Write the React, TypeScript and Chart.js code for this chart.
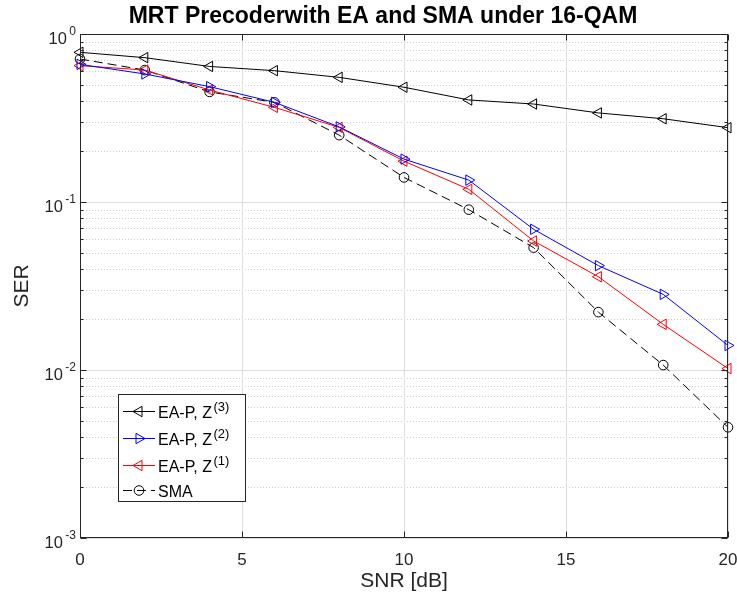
import React, { useEffect, useRef } from 'react';
import { Chart, registerables } from 'chart.js';

Chart.register(...registerables);

// ---------- data ----------
const snr = [0, 2, 4, 6, 8, 10, 12, 14, 16, 18, 20];
const serZ3 = [0.778, 0.723, 0.641, 0.605, 0.552, 0.482, 0.405, 0.383, 0.339, 0.313, 0.277];
const serZ2 = [0.66, 0.578, 0.486, 0.392, 0.28, 0.18, 0.135, 0.0688, 0.0418, 0.0282, 0.014];
const serZ1 = [0.648, 0.61, 0.464, 0.366, 0.278, 0.175, 0.119, 0.0586, 0.0359, 0.0187, 0.0102];
const serSMA = [0.71, 0.61, 0.452, 0.392, 0.25, 0.14, 0.09, 0.0535, 0.0221, 0.0107, 0.00456];

const xTicks = [0, 5, 10, 15, 20];
const yExponents = [-3, -2, -1, 0];
const yMantissas = [1, 2, 3, 4, 5, 6, 7, 8, 9];

const titleText = 'MRT Precoderwith EA and SMA under 16-QAM';
const xLabel = 'SNR [dB]';
const yLabel = 'SER';
const legendNames = ['EA-P, Z', 'EA-P, Z', 'EA-P, Z', 'SMA'];
const legendSups = ['(3)', '(2)', '(1)', ''];

const FONT = '"Liberation Sans", Arial, Helvetica, sans-serif';
const AXIS = '#262626';

const yTickValues: number[] = [];
for (let e = yExponents[0]; e < 0; e++) {
  for (const m of yMantissas) yTickValues.push(m * Math.pow(10, e));
}
yTickValues.push(1);

function isDecade(v: number) {
  const l = Math.log10(v);
  return Math.abs(l - Math.round(l)) < 1e-6;
}

const TRI_R = 6;
const CIRC_R = 4.8;

function drawMarker(ctx: CanvasRenderingContext2D, kind: string, x: number, y: number, color: string) {
  ctx.save();
  ctx.strokeStyle = color;
  ctx.lineWidth = 1;
  ctx.setLineDash([]);
  ctx.beginPath();
  const r = TRI_R;
  if (kind === 'left') {
    ctx.moveTo(x - r, y);
    ctx.lineTo(x + r / 2, y - r * 0.866);
    ctx.lineTo(x + r / 2, y + r * 0.866);
    ctx.closePath();
  } else if (kind === 'right') {
    ctx.moveTo(x + r, y);
    ctx.lineTo(x - r / 2, y - r * 0.866);
    ctx.lineTo(x - r / 2, y + r * 0.866);
    ctx.closePath();
  } else {
    ctx.arc(x, y, CIRC_R, 0, Math.PI * 2);
  }
  ctx.stroke();
  ctx.restore();
}

const decorPlugin = {
  id: 'matlabDecor',
  beforeDatasetsDraw(chart: any) {
    const { ctx, chartArea, scales } = chart;
    const { left, right, top, bottom } = chartArea;
    const xs = scales.x;
    const ys = scales.y;
    ctx.save();
    ctx.lineWidth = 1;
    // minor y grid (dotted)
    ctx.strokeStyle = '#cdcdcd';
    ctx.setLineDash([1, 2]);
    for (const v of yTickValues) {
      if (isDecade(v)) continue;
      const py = Math.round(ys.getPixelForValue(v)) + 0.5;
      ctx.beginPath();
      ctx.moveTo(left, py);
      ctx.lineTo(right, py);
      ctx.stroke();
    }
    // major grid
    ctx.setLineDash([]);
    ctx.strokeStyle = '#dedede';
    for (const v of yTickValues) {
      if (!isDecade(v)) continue;
      const py = Math.round(ys.getPixelForValue(v)) + 0.5;
      ctx.beginPath();
      ctx.moveTo(left, py);
      ctx.lineTo(right, py);
      ctx.stroke();
    }
    for (const v of xTicks) {
      const px = Math.round(xs.getPixelForValue(v)) + 0.5;
      ctx.beginPath();
      ctx.moveTo(px, top);
      ctx.lineTo(px, bottom);
      ctx.stroke();
    }
    ctx.restore();
  },
  afterDraw(chart: any) {
    const { ctx, chartArea, scales } = chart;
    const { left, right, top, bottom } = chartArea;
    const xs = scales.x;
    const ys = scales.y;
    ctx.save();
    // box
    ctx.strokeStyle = AXIS;
    ctx.lineWidth = 1;
    ctx.setLineDash([]);
    const L = Math.round(left) + 0.5;
    const R = Math.round(right) - 0.5;
    const T = Math.round(top) + 0.5;
    const B = Math.round(bottom) - 0.5;
    ctx.strokeRect(L, T, R - L, B - T);
    // x ticks
    ctx.beginPath();
    for (const v of xTicks) {
      const px = Math.round(xs.getPixelForValue(v)) + 0.5;
      ctx.moveTo(px, B);
      ctx.lineTo(px, B - 6);
      ctx.moveTo(px, T);
      ctx.lineTo(px, T + 6);
    }
    // y ticks
    for (const v of yTickValues) {
      const py = Math.round(ys.getPixelForValue(v)) + 0.5;
      const len = isDecade(v) ? 6 : 3;
      ctx.moveTo(L, py);
      ctx.lineTo(L + len, py);
      ctx.moveTo(R, py);
      ctx.lineTo(R - len, py);
    }
    ctx.stroke();

    // x tick labels
    ctx.fillStyle = AXIS;
    ctx.font = `17px ${FONT}`;
    ctx.textAlign = 'center';
    ctx.textBaseline = 'alphabetic';
    for (const v of xTicks) {
      ctx.fillText(String(v), xs.getPixelForValue(v), bottom + 27);
    }
    // y tick labels 10^e
    for (const e of yExponents) {
      const py = ys.getPixelForValue(Math.pow(10, e));
      ctx.font = `12px ${FONT}`;
      const es = String(e);
      const ew = ctx.measureText(es).width;
      ctx.textAlign = 'right';
      ctx.fillText(es, 76, py + 0.5);
      ctx.font = `16.5px ${FONT}`;
      ctx.fillText('10', 76 - ew - 2.5, py + 9.5);
    }
    // axis labels
    ctx.font = `21px ${FONT}`;
    ctx.textAlign = 'center';
    ctx.fillText(xLabel, (left + right) / 2, 587);
    ctx.save();
    ctx.translate(28, (top + bottom) / 2);
    ctx.rotate(-Math.PI / 2);
    ctx.fillText(yLabel, 0, 0);
    ctx.restore();
    // title
    ctx.fillStyle = '#000';
    ctx.font = `bold 23px ${FONT}`;
    ctx.fillText(titleText, 383, 23);

    // legend
    const bx = 118.5, by = 394.5, bw = 127, bh = 107;
    ctx.fillStyle = '#fff';
    ctx.fillRect(bx, by, bw, bh);
    ctx.strokeStyle = AXIS;
    ctx.strokeRect(bx, by, bw, bh);
    const rowY = [411, 438, 465, 490];
    chart.data.datasets.forEach((ds: any, i: number) => {
      const yy = rowY[i] + 0.5;
      ctx.save();
      ctx.strokeStyle = ds.borderColor;
      ctx.lineWidth = 1;
      ctx.setLineDash(ds.borderDash || []);
      ctx.beginPath();
      ctx.moveTo(123, yy);
      ctx.lineTo(155, yy);
      ctx.stroke();
      ctx.restore();
      const kind = ds.pointStyle === 'circle' ? 'circle' : ds.pointRotation > 0 ? 'right' : 'left';
      drawMarker(ctx, kind, 139, yy, ds.borderColor);
      ctx.fillStyle = '#000';
      ctx.textAlign = 'left';
      ctx.font = `16px ${FONT}`;
      ctx.fillText(legendNames[i], 158, rowY[i] + 7);
      const w = ctx.measureText(legendNames[i]).width;
      if (legendSups[i]) {
        ctx.font = `13px ${FONT}`;
        ctx.fillText(legendSups[i], 158 + w + 1.5, rowY[i] - 0.5);
      }
    });
    ctx.restore();
  },
};

function makeDataset(label: string, values: number[], color: string, style: string, rotation: number, dash: number[]) {
  return {
    label,
    data: snr.map((x, i) => ({ x, y: values[i] })),
    borderColor: color,
    backgroundColor: 'rgba(0,0,0,0)',
    borderWidth: 1,
    borderDash: dash,
    pointStyle: style,
    pointRotation: rotation,
    pointRadius: style === 'circle' ? CIRC_R : TRI_R,
    pointBorderWidth: 1,
    pointBorderColor: color,
    pointBackgroundColor: 'rgba(0,0,0,0)',
    tension: 0,
    fill: false,
    clip: false,
  };
}

export default function App() {
  const ref = useRef<HTMLCanvasElement>(null);
  useEffect(() => {
    document.body.style.margin = '0';
    const canvas = ref.current!;
    const chart = new Chart(canvas, {
      type: 'line',
      data: {
        datasets: [
          makeDataset('EA-P, Z(3)', serZ3, '#000000', 'triangle', -90, []),
          makeDataset('EA-P, Z(2)', serZ2, '#0000ff', 'triangle', 90, []),
          makeDataset('EA-P, Z(1)', serZ1, '#ff0000', 'triangle', -90, []),
          makeDataset('SMA', serSMA, '#000000', 'circle', 0, [9, 5]),
        ] as any,
      },
      options: {
        animation: false,
        responsive: false,
        devicePixelRatio: 1,
        layout: { padding: { left: 80, top: 34, right: 9, bottom: 61 } },
        plugins: { legend: { display: false }, tooltip: { enabled: false }, title: { display: false } },
        scales: {
          x: {
            type: 'linear',
            min: 0,
            max: 20,
            ticks: { display: false },
            grid: { display: false, drawTicks: false },
            border: { display: false },
            afterBuildTicks: (s: any) => { s.ticks = xTicks.map((v) => ({ value: v })); },
            afterFit: (s: any) => { s.height = 0; },
          },
          y: {
            type: 'logarithmic',
            min: 0.001,
            max: 1,
            ticks: { display: false },
            grid: { display: false, drawTicks: false },
            border: { display: false },
            afterBuildTicks: (s: any) => { s.ticks = yTickValues.map((v) => ({ value: v })); },
            afterFit: (s: any) => { s.width = 0; },
          },
        },
      } as any,
      plugins: [decorPlugin],
    });
    return () => chart.destroy();
  }, []);
  return (
    <div style={{ width: 737, height: 599, background: '#fff' }}>
      <canvas ref={ref} width={737} height={599} style={{ display: 'block', width: 737, height: 599 }} />
    </div>
  );
}
